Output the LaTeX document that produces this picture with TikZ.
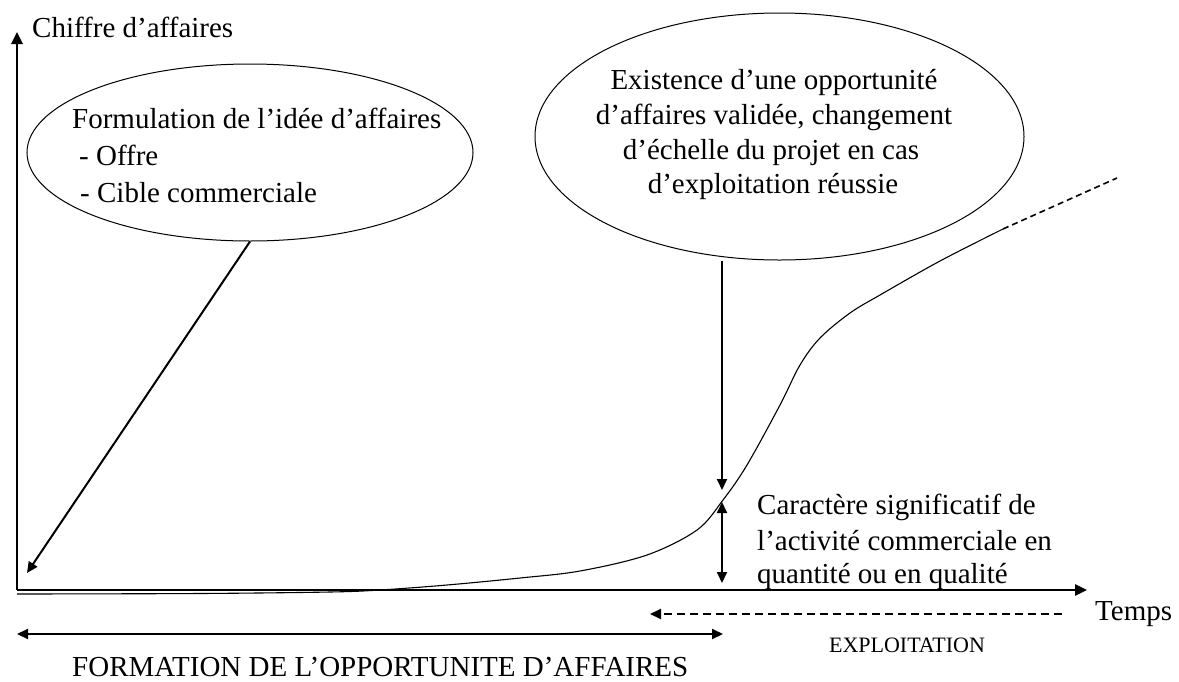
\documentclass[tikz,border=0pt]{standalone}
\usepackage{fontspec}
\setmainfont{Liberation Serif}
\usetikzlibrary{arrows.meta,shapes.geometric}
\begin{document}
\begin{tikzpicture}[x=1pt,y=-1pt,
  txt/.style={inner sep=0pt, font=\fontsize{29}{35}\selectfont},
  smalltxt/.style={inner sep=0pt, font=\fontsize{22}{26}\selectfont},
  ell/.style={draw, ellipse, line width=1pt, inner sep=0pt},
  axisline/.style={line width=2.5pt},
  bigtip/.style={-{Triangle[length=12pt,width=11pt]}},
  arr/.style={line width=2pt, -{Triangle[length=11pt,width=10pt]}},
  dblarr/.style={line width=2pt, {Triangle[length=11pt,width=10pt]}-{Triangle[length=11pt,width=10pt]}},
  dasharr/.style={line width=2pt, dash pattern=on 8pt off 5pt, -{Triangle[length=11pt,width=10pt]}},
  curveline/.style={line width=1.1pt},
  curvedash/.style={line width=1.6pt, dash pattern=on 6pt off 4pt}
]
\fill[white] (0,0) rectangle (1179,681);
\useasboundingbox (0,0) rectangle (1179,681);

% coordinates
\coordinate (orig) at (17,590);
\coordinate (ytop) at (17,32);
\coordinate (xend) at (1087,590);
\coordinate (ltip) at (27,573);
\coordinate (dtip) at (722,490);
\coordinate (sigtop) at (722,502);
\coordinate (sigbot) at (722,583);
\coordinate (fl) at (17,634);
\coordinate (fr) at (723,634);
\coordinate (el) at (650,614);
\coordinate (er) at (1062,614);
\coordinate (cend) at (1003,229);
\coordinate (dend) at (1117,178);

% ellipses
\node[ell, minimum width=446pt, minimum height=177pt] (lell) at (250,152.5) {};
\node[ell, minimum width=489pt, minimum height=247pt] (rell) at (779.5,136.5) {};

% axes
\draw[axisline, bigtip] (orig) -- (ytop);
\draw[axisline, bigtip] (orig) -- (xend);

% curve
\draw[curveline] plot[smooth, tension=0.55] coordinates {
  (17,594) (200,593.5) (330,592) (380,590) (447,585) (520,578) (580,571)
  (647,555) (697,530) (723,500) (747,465) (780,405) (800,365) (820,338)
  (850,313) (880,295) (940,261) (1003,229)};
\draw[curvedash] (cend) -- (dend);

% arrows
\draw[arr] (lell.south) -- (ltip);
\draw[arr] (rell.south -| dtip) -- (dtip);
\draw[dblarr] (sigtop) -- (sigbot);
\draw[dblarr] (fl) -- (fr);
\draw[dasharr] (er) -- (el);

% texts
\node[txt, anchor=base west] (ylab) at (32,37) {Chiffre d’affaires};

\node[txt, anchor=base west] (l1) at (72,128) {Formulation de l’idée d’affaires};
\node[txt, anchor=base west] (l2) at (79,165) {- Offre};
\node[txt, anchor=base west] (l3) at (80,202) {- Cible commerciale};

\node[txt, anchor=base] (r1) at (774,89) {Existence d’une opportunité};
\node[txt, anchor=base] (r2) at (774,124) {d’affaires validée, changement};
\node[txt, anchor=base] (r3) at (771,159) {d’échelle du projet en cas};
\node[txt, anchor=base] (r4) at (773,193) {d’exploitation réussie};

\node[txt, anchor=base west] (c1) at (757,514) {Caractère significatif de};
\node[txt, anchor=base west] (c2) at (757,550) {l’activité commerciale en};
\node[txt, anchor=base west] (c3) at (757,583) {quantité ou en qualité};

\node[txt, anchor=base west] (temps) at (1095,620) {Temps};
\node[smalltxt, anchor=base] (expl) at (907,652) {EXPLOITATION};
\node[txt, anchor=base west] (form) at (72,676) {FORMATION DE L’OPPORTUNITE D’AFFAIRES};
\end{tikzpicture}
\end{document}
